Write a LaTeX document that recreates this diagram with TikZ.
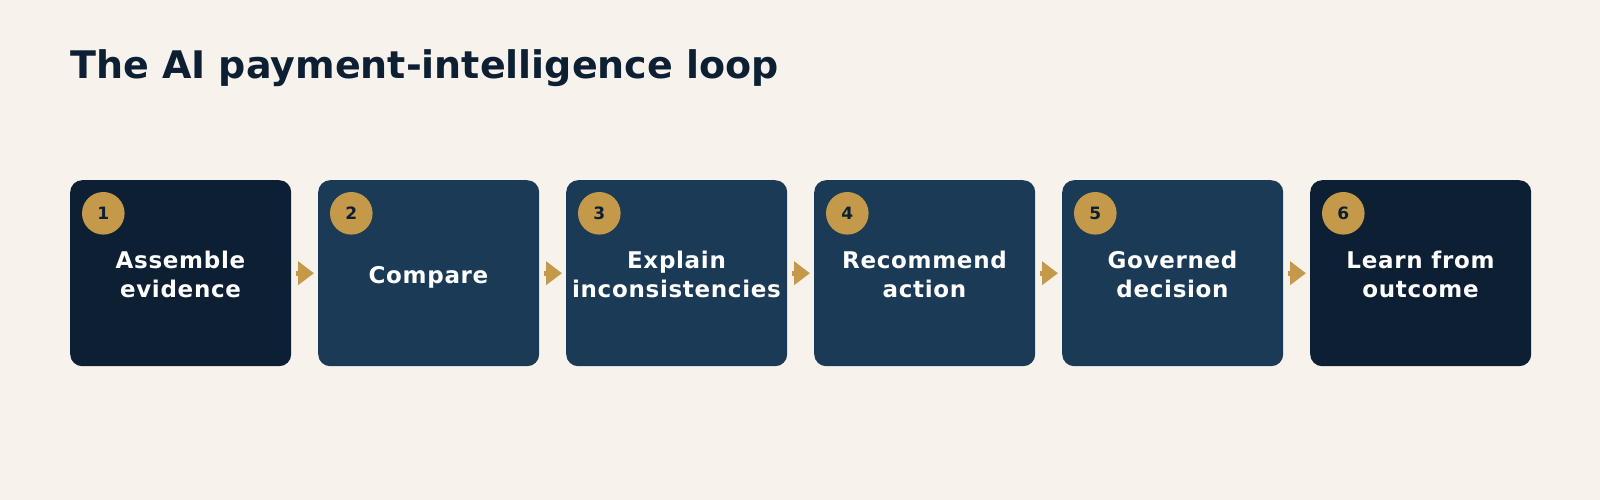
\documentclass[tikz,border=0pt]{standalone}
\usepackage{fontspec}
\setmainfont{DejaVu Sans}
\usetikzlibrary{arrows.meta}
\definecolor{bg}{RGB}{247,243,236}
\definecolor{navy}{RGB}{12,31,51}
\definecolor{mid}{RGB}{26,58,85}
\definecolor{gold}{RGB}{196,154,74}
\tikzset{
  stepbox/.style={rounded corners=12pt, minimum width=221pt, minimum height=186pt, inner sep=0pt, draw=none},
  badge/.style={circle, fill=gold, minimum size=42.6pt, inner sep=0pt, text=navy, font=\fontsize{17}{20}\selectfont\bfseries},
  lbl/.style={text=white, align=center, inner sep=0pt, font=\fontsize{23}{28.7}\selectfont\bfseries\addfontfeature{LetterSpace=3}},
  arr/.style={draw=gold, line width=5pt, -{Triangle[length=16pt,width=23pt]}},
}
\begin{document}
\begin{tikzpicture}[x=1pt,y=-1pt]
\fill[bg] (0,0) rectangle (1600,500);
\useasboundingbox (0,0) rectangle (1600,500);
\node[anchor=base west, inner sep=0pt, text=navy, font=\fontsize{38}{45}\selectfont\bfseries] (title) at (70,78.3) {The AI payment-intelligence loop};
\foreach \i/\c/\t in {1/navy/{\strut Assemble\\evidence\strut},2/mid/{\strut Compare\strut},3/mid/{\strut Explain\\inconsistencies\strut},4/mid/{\strut Recommend\\action\strut},5/mid/{\strut Governed\\decision\strut},6/navy/{\strut Learn from\\outcome\strut}}{
  \pgfmathsetmacro{\xl}{70+248*(\i-1)}
  \node[stepbox, fill=\c, anchor=north west] (b\i) at (\xl,180) {};
  \node[badge] (n\i) at (\xl+33.3,213.3) {\i};
  \node[lbl] (l\i) at (\xl+110.5,277.6) {\t};
}
\foreach \a/\b in {1/2,2/3,3/4,4/5,5/6}{
  \draw[arr] ([xshift=4.3pt]b\a.east) -- ([xshift=-4pt]b\b.west);
}
\end{tikzpicture}
\end{document}
